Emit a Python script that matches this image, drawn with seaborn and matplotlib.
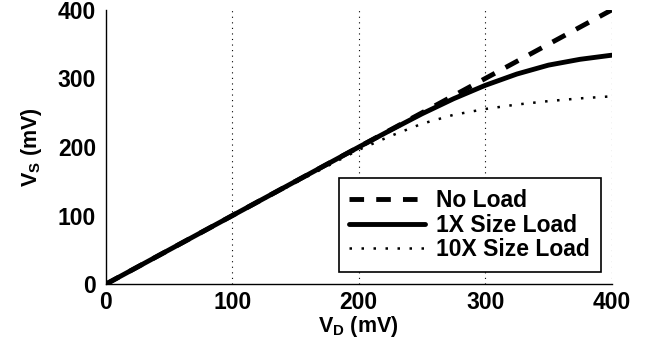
import pandas as pd
import seaborn as sns
import matplotlib.pyplot as plt
from matplotlib.ticker import MultipleLocator

# ==============================
# DATA
# ==============================

vd = [0, 100, 150, 200, 225, 250, 275, 300, 325, 350, 375, 400]
no_load = [0, 100, 150, 200, 225, 250, 275, 300, 325, 350, 375, 400]
load_1x = [0, 100, 150, 200, 224.5, 248.5, 270.5, 290, 306.5, 319.5, 328, 334]
load_10x = [0, 99.5, 148, 196, 216, 234, 247, 255.5, 262, 267, 271, 274]

df = pd.DataFrame({'vd': vd, 'no': no_load, 'x1': load_1x, 'x10': load_10x})

# ==============================
# STYLE
# ==============================

sns.set_style('white')
plt.rcParams['font.family'] = ['Liberation Sans', 'DejaVu Sans']
plt.rcParams['font.weight'] = 'bold'
plt.rcParams['text.color'] = 'black'
plt.rcParams['axes.labelcolor'] = 'black'
plt.rcParams['xtick.color'] = 'black'
plt.rcParams['ytick.color'] = 'black'
plt.rcParams['mathtext.fontset'] = 'custom'
plt.rcParams['mathtext.rm'] = 'Liberation Sans:bold'
plt.rcParams['mathtext.it'] = 'Liberation Sans:bold'
plt.rcParams['mathtext.bf'] = 'Liberation Sans:bold'

fig = plt.figure(figsize=(6.5, 3.56), dpi=100)
ax = fig.add_axes([0.163, 0.202, 0.778, 0.770])

# grid vertical pontilhada
for gx in [100, 200, 300, 400]:
    ax.axvline(gx, color='black', lw=0.8, linestyle=(0, (1, 4)), zorder=0)

sns.lineplot(data=df, x='vd', y='no', ax=ax, color='black', lw=3.5,
             linestyle=(0, (3, 2.5)), label='No Load')
sns.lineplot(data=df, x='vd', y='x1', ax=ax, color='black', lw=3.5,
             label='1X Size Load')
sns.lineplot(data=df, x='vd', y='x10', ax=ax, color='black', lw=1.8,
             linestyle=(0, (1, 3.8)), label='10X Size Load')

ax.set_xlim(0, 400)
ax.set_ylim(0, 400)
ax.xaxis.set_major_locator(MultipleLocator(100))
ax.yaxis.set_major_locator(MultipleLocator(100))
ax.yaxis.set_minor_locator(MultipleLocator(10))

for s in ['top', 'right']:
    ax.spines[s].set_visible(False)
for s in ['left', 'bottom']:
    ax.spines[s].set_color('black')
    ax.spines[s].set_linewidth(1.0)

ax.tick_params(axis='both', which='major', direction='in', length=5,
               width=1, labelsize=16.5, color='black')
ax.tick_params(axis='x', which='major', pad=5)
ax.tick_params(axis='y', which='major', pad=7)
ax.tick_params(axis='y', which='minor', direction='in', length=2,
               width=0.6, color='gray')
for t in ax.get_xticklabels() + ax.get_yticklabels():
    t.set_fontweight('bold')

ax.set_xlabel('V$_\\mathrm{D}$ (mV)', fontsize=15.5, fontweight='bold', labelpad=0)
ax.set_ylabel('V$_\\mathrm{S}$ (mV)', fontsize=15.5, fontweight='bold', labelpad=10)

leg = ax.legend(loc='lower right', bbox_to_anchor=(0.978, 0.045),
                prop={'size': 16.5, 'weight': 'bold'}, frameon=True,
                fancybox=False, edgecolor='black', handlelength=3.3,
                handletextpad=0.5, borderpad=0.45, labelspacing=0.08,
                borderaxespad=0)
leg.get_frame().set_linewidth(1.2)
leg.get_frame().set_alpha(1)

fig.savefig('out.png', dpi=100)
